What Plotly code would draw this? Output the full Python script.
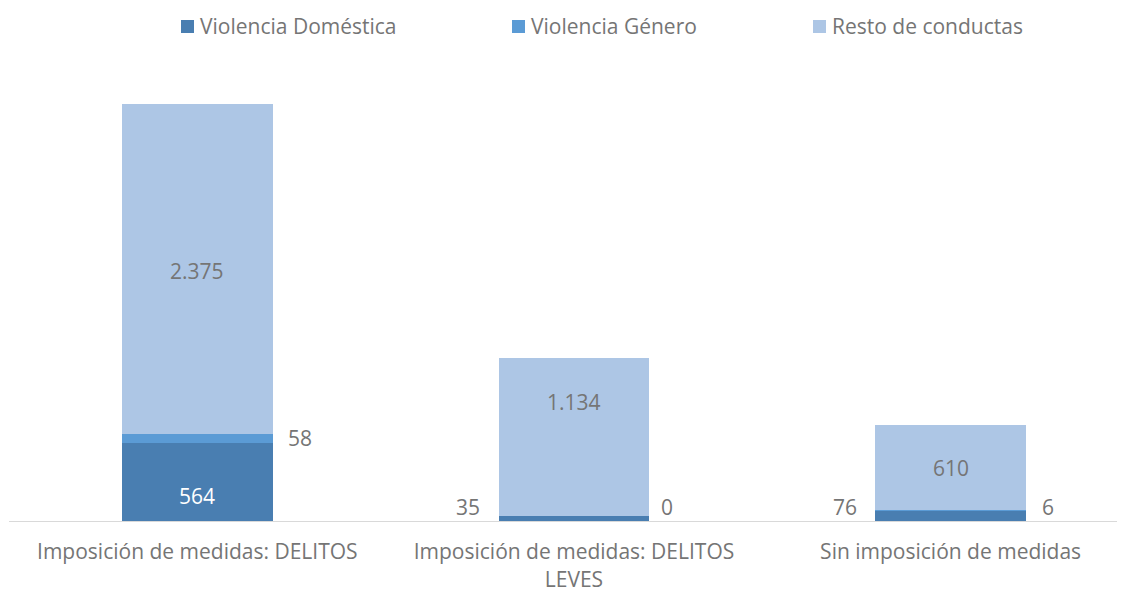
import plotly.graph_objects as go

categories = ["Imposición de medidas: DELITOS", "Imposición de medidas: DELITOS<br>LEVES", "Sin imposición de medidas"]
series_names = ["Violencia Doméstica", "Violencia Género", "Resto de conductas"]
domestica = [564, 35, 76]
genero = [58, 0, 6]
resto = [2375, 1134, 610]

colors = ["#497eb1", "#5b9bd5", "#adc6e5"]
gray = "#757575"
FONT = "Open Sans"
FS = 21

W, H = 1117, 584
L, R, T, B = 1, 0, 52, 71
plot_w = W - L - R
plot_h = H - T - B


def px(fx):
    return (fx - L) / plot_w


def py(fy):
    return (H - B - fy) / plot_h


def fmt(v):
    return f"{v:,}".replace(",", ".")


x = [0, 1, 2]
fig = go.Figure()
for vals, name, c in zip([domestica, genero, resto], series_names, colors):
    fig.add_trace(go.Bar(x=x, y=vals, name=name, marker_color=c,
                         marker_line_width=0, width=0.4, hoverinfo="skip"))

annotations = []
font = dict(color=gray, size=FS, family=FONT)
# Doméstica labels
dom_shift = [-14, 0, 0]
for i in range(3):
    if i == 0:
        annotations.append(dict(x=x[i], y=domestica[i] / 2, xref="x", yref="y",
                                text=fmt(domestica[i]), showarrow=False,
                                yanchor="middle", yshift=dom_shift[i],
                                font=dict(color="white", size=FS, family=FONT)))
    else:
        annotations.append(dict(x=x[i], y=max(domestica[i] / 2, 100), xref="x", yref="y",
                                text=fmt(domestica[i]), showarrow=False,
                                xanchor="right", yanchor="middle",
                                xshift=-(75 + 17), font=font))
# Género labels
gen_xshift = [75 + 14, 75 + 10, 75 + 14]
for i in range(3):
    ymid = max(domestica[i] + genero[i] / 2, 100)
    annotations.append(dict(x=x[i], y=ymid, xref="x", yref="y", text=fmt(genero[i]),
                            showarrow=False, xanchor="left", yanchor="middle",
                            xshift=gen_xshift[i], font=font))
# Resto labels
resto_shift = [-2, 35, -1]
for i in range(3):
    ymid = domestica[i] + genero[i] + resto[i] / 2
    annotations.append(dict(x=x[i], y=ymid, xref="x", yref="y", text=fmt(resto[i]),
                            showarrow=False, yanchor="middle", yshift=resto_shift[i],
                            font=font))

# manual legend (figure pixel coords)
leg_x = [173, 504, 805]
shapes = []
for lx, name, c in zip(leg_x, series_names, colors):
    shapes.append(dict(type="rect", xref="paper", yref="paper",
                       x0=px(lx), x1=px(lx + 13), y0=py(25), y1=py(12),
                       line_width=0, fillcolor=c))
    annotations.append(dict(x=px(lx + 17), y=py(18), xref="paper", yref="paper",
                            showarrow=False, xanchor="left", yanchor="middle", text=name,
                            font=font))

fig.update_layout(
    barmode="stack",
    width=W, height=H,
    margin=dict(l=L, r=R, t=T, b=B),
    paper_bgcolor="white", plot_bgcolor="white",
    showlegend=False,
    font=dict(family=FONT, color=gray, size=FS),
    xaxis=dict(range=[-0.5, 2.463], tickvals=x, ticktext=categories,
               showgrid=False, zeroline=False, showline=True, linecolor="#d9d9d9",
               linewidth=1, ticks="", ticklabelstandoff=12,
               tickfont=dict(size=FS, color=gray, family=FONT),
               fixedrange=True),
    yaxis=dict(range=[0, 3313], visible=False, fixedrange=True),
    shapes=shapes, annotations=annotations,
)
fig.write_html("out.html")
